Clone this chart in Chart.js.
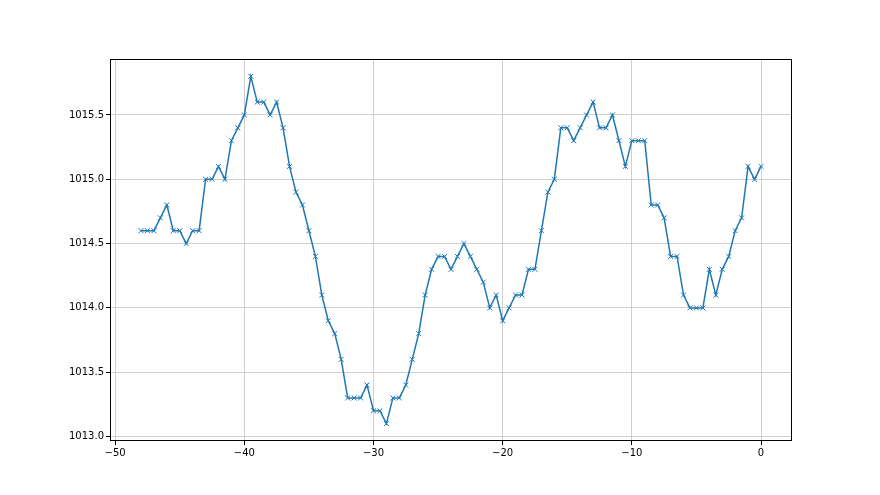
<!DOCTYPE html>
<html>
<head>
<meta charset="utf-8">
<script src="https://cdn.jsdelivr.net/npm/chart.js@4/dist/chart.umd.min.js"></script>
<style>
html,body{margin:0;padding:0;background:#fff;}
#wrap{width:880px;height:495px;position:relative;}
</style>
</head>
<body>
<div id="wrap"><canvas id="c" width="880" height="495"></canvas></div>
<script>
const xValues = [-48,-47.5,-47,-46.5,-46,-45.5,-45,-44.5,-44,-43.5,-43,-42.5,-42,-41.5,-41,-40.5,-40,-39.5,-39,-38.5,-38,-37.5,-37,-36.5,-36,-35.5,-35,-34.5,-34,-33.5,-33,-32.5,-32,-31.5,-31,-30.5,-30,-29.5,-29,-28.5,-28,-27.5,-27,-26.5,-26,-25.5,-25,-24.5,-24,-23.5,-23,-22.5,-22,-21.5,-21,-20.5,-20,-19.5,-19,-18.5,-18,-17.5,-17,-16.5,-16,-15.5,-15,-14.5,-14,-13.5,-13,-12.5,-12,-11.5,-11,-10.5,-10,-9.5,-9,-8.5,-8,-7.5,-7,-6.5,-6,-5.5,-5,-4.5,-4,-3.5,-3,-2.5,-2,-1.5,-1,-0.5,0];
const pressure = [1014.6,1014.6,1014.6,1014.7,1014.8,1014.6,1014.6,1014.5,1014.6,1014.6,1015.0,1015.0,1015.1,1015.0,1015.3,1015.4,1015.5,1015.8,1015.6,1015.6,1015.5,1015.6,1015.4,1015.1,1014.9,1014.8,1014.6,1014.4,1014.1,1013.9,1013.8,1013.6,1013.3,1013.3,1013.3,1013.4,1013.2,1013.2,1013.1,1013.3,1013.3,1013.4,1013.6,1013.8,1014.1,1014.3,1014.4,1014.4,1014.3,1014.4,1014.5,1014.4,1014.3,1014.2,1014.0,1014.1,1013.9,1014.0,1014.1,1014.1,1014.3,1014.3,1014.6,1014.9,1015.0,1015.4,1015.4,1015.3,1015.4,1015.5,1015.6,1015.4,1015.4,1015.5,1015.3,1015.1,1015.3,1015.3,1015.3,1014.8,1014.8,1014.7,1014.4,1014.4,1014.1,1014.0,1014.0,1014.0,1014.3,1014.1,1014.3,1014.4,1014.6,1014.7,1015.1,1015.0,1015.1];
const xTicks = [-50,-40,-30,-20,-10,0];
const yTicks = [1013.0,1013.5,1014.0,1014.5,1015.0,1015.5];

const points = xValues.map((x,i)=>({x:x,y:pressure[i]}));
const xMin = -50.4, xMax = 2.4, yMin = 1012.965, yMax = 1015.935;

const frame = {
  id:'frame',
  afterDraw(chart){
    const a = chart.chartArea, ctx = chart.ctx;
    ctx.save();
    ctx.strokeStyle = '#000';
    ctx.lineWidth = 1;
    ctx.strokeRect(Math.round(a.left)+0.5, Math.round(a.top)+0.5, Math.round(a.right-a.left)-1, Math.round(a.bottom-a.top)-1);
    ctx.restore();
  }
};

new Chart(document.getElementById('c'), {
  type:'line',
  data:{datasets:[{
    data:points,
    borderColor:'#1f77b4',
    backgroundColor:'#1f77b4',
    borderWidth:1.5,
    pointStyle:'crossRot',
    pointRadius:3.5,
    pointBorderWidth:1,
    pointBorderColor:'#1f77b4',
    pointHoverRadius:3.5,
    tension:0,
    fill:false
  }]},
  options:{
    responsive:false,
    animation:false,
    events:[],
    layout:{padding:{left:0,top:59,right:88,bottom:0}},
    plugins:{legend:{display:false},tooltip:{enabled:false}},
    scales:{
      x:{
        type:'linear', min:xMin, max:xMax,
        afterBuildTicks(s){ s.ticks = xTicks.map(v=>({value:v})); },
        afterFit(s){ s.height = 54; },
        grid:{color:'#cfcfcf',lineWidth:1,tickLength:4,tickColor:'#000'},
        border:{display:false},
        ticks:{color:'#000',padding:2,maxRotation:0,autoSkip:false,font:{family:'DejaVu Sans',size:10},
          callback:v=>String(v).replace('-','\u2212')}
      },
      y:{
        type:'linear', min:yMin, max:yMax,
        afterBuildTicks(s){ s.ticks = yTicks.map(v=>({value:v})); },
        afterFit(s){ s.width = 110; },
        grid:{color:'#cfcfcf',lineWidth:1,tickLength:4,tickColor:'#000'},
        border:{display:false},
        ticks:{color:'#000',padding:2,autoSkip:false,font:{family:'DejaVu Sans',size:10},
          callback:v=>Number(v).toFixed(1)}
      }
    }
  },
  plugins:[frame]
});
</script>
</body>
</html>
